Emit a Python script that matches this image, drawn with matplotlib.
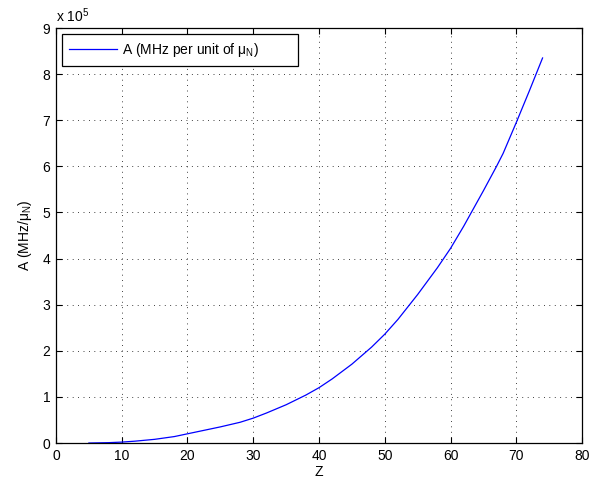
import numpy as np
import matplotlib
matplotlib.use("Agg")
import matplotlib.pyplot as plt
from matplotlib.ticker import FuncFormatter

plt.rcParams["font.family"] = ["Liberation Sans", "DejaVu Sans"]
plt.rcParams["mathtext.fontset"] = "custom"
plt.rcParams["mathtext.rm"] = "Liberation Sans"
plt.rcParams["mathtext.it"] = "Liberation Sans:italic"
plt.rcParams["mathtext.default"] = "regular"
plt.rcParams["font.size"] = 10

# atomic number vs hyperfine constant (units of 1e5)
z = [5, 8, 10, 12, 15, 18, 20, 22, 25, 28, 30, 32, 35, 38, 40, 42, 45, 48,
     50, 52, 55, 58, 60, 62, 65, 67, 68, 70, 72, 74]
a_1e5 = [0.0, 0.008, 0.02, 0.04, 0.08, 0.14, 0.20, 0.26, 0.35, 0.45, 0.54,
         0.65, 0.83, 1.04, 1.20, 1.39, 1.71, 2.08, 2.36, 2.68, 3.22, 3.80,
         4.22, 4.70, 5.47, 6.0, 6.28, 6.95, 7.64, 8.35]
xticks = [0, 10, 20, 30, 40, 50, 60, 70, 80]
yticks = [0, 1, 2, 3, 4, 5, 6, 7, 8, 9]

a = np.array(a_1e5) * 1e5

fig = plt.figure(figsize=(6.04, 4.87), dpi=100)
ax = fig.add_axes([0.0927, 0.0903, 0.8709, 0.8522])

ax.plot(z, a, color=(0, 0, 1), lw=0.9,
        label=r"A (MHz per unit of $\mu_N$)" + " " * 9)

ax.set_xlim(0, 80)
ax.set_ylim(0, 9e5)
ax.set_xticks(xticks)
ax.set_yticks([t * 1e5 for t in yticks])
ax.yaxis.set_major_formatter(FuncFormatter(lambda v, p: "%d" % round(v / 1e5)))

ax.grid(True, color="k", linestyle=(0, (1, 5.5)), lw=0.6)
ax.tick_params(direction="in", length=4, width=0.8, top=True, right=True, pad=4)
for s in ax.spines.values():
    s.set_linewidth(0.9)

ax.set_xlabel("Z", labelpad=2)
ax.set_ylabel(r"A (MHz/$\mu_N$)", labelpad=6)
ax.text(0.0, 1.008, r"x 10$^{5}$", transform=ax.transAxes,
        ha="left", va="bottom")

leg = ax.legend(loc="upper left", borderaxespad=0.45, borderpad=0.5,
                handlelength=3.45, handletextpad=0.35, fancybox=False,
                framealpha=1)
leg.get_frame().set_edgecolor("k")
leg.get_frame().set_linewidth(0.9)

fig.savefig("out.png", dpi=100)
